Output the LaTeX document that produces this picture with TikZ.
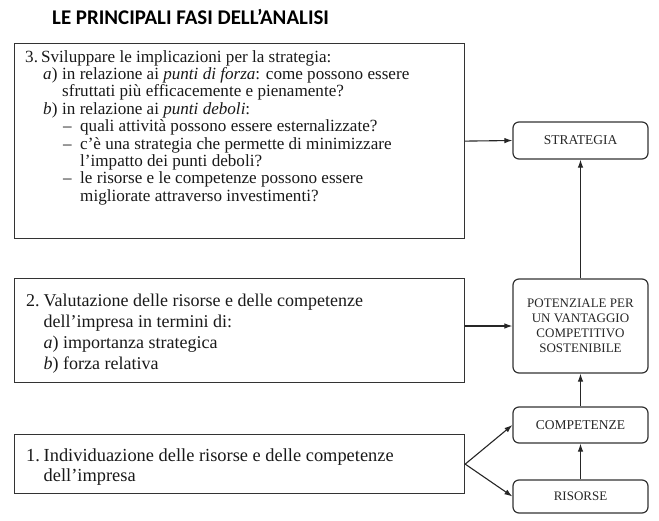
\documentclass[tikz,border=0pt]{standalone}
\usepackage{fontspec}
\setmainfont{Liberation Serif}
\newfontfamily\titlefont{Carlito}
\usetikzlibrary{arrows.meta}
\begin{document}
\begin{tikzpicture}[x=1pt,y=-1pt,
  phase/.style={draw=black!80, line width=1.2pt, rectangle, inner sep=0pt, anchor=north west},
  phasetext/.style={inner sep=0pt, anchor=north west, align=left, text=black!90},
  outbox/.style={draw=black!80, line width=1.2pt, rounded corners=6pt, minimum width=135pt, inner sep=2pt, align=center, text=black!85, font=\fontsize{13}{15}\selectfont},
  conn/.style={draw=black!85, line width=1.1pt, -{Latex[length=8pt,width=5.5pt]}}]
\useasboundingbox (0,0) rectangle (659,520);
% title
\node[anchor=west, inner sep=0pt] (title) at (52,17) {\titlefont\bfseries\fontsize{20.9}{24}\selectfont LE PRINCIPALI FASI DELL’ANALISI};
% left boxes
\node[phase, minimum width=450pt, minimum height=195pt] (b3) at (14,43) {};
\node[phase, minimum width=450pt, minimum height=104pt] (b2) at (14,278) {};
\node[phase, minimum width=450pt, minimum height=59pt] (b1) at (14,434) {};
\node[phasetext, font=\fontsize{17.1}{17.4}\selectfont] (t3) at (25,50) {%
\makebox[16pt][l]{3.}Sviluppare le implicazioni per la strategia:\\
\hspace*{18pt}\makebox[19pt][l]{\emph{a})}in relazione ai \emph{punti di forza}: come possono essere\\
\hspace*{37pt}sfruttati più efficacemente e pienamente?\\
\hspace*{18pt}\makebox[19pt][l]{\emph{b})}in relazione ai \emph{punti deboli}:\\
\hspace*{38pt}\makebox[17pt][l]{–}quali attività possono essere esternalizzate?\\
\hspace*{38pt}\makebox[17pt][l]{–}c’è una strategia che permette di minimizzare\\
\hspace*{55pt}l’impatto dei punti deboli?\\
\hspace*{38pt}\makebox[17pt][l]{–}le risorse e le competenze possono essere\\
\hspace*{55pt}migliorate attraverso investimenti?};
\node[phasetext, font=\fontsize{18}{21}\selectfont] (t2) at (26,293.5) {%
\makebox[17.5pt][l]{2.}Valutazione delle risorse e delle competenze\\
\hspace*{17.5pt}dell’impresa in termini di:\\
\hspace*{17.5pt}\emph{a}) importanza strategica\\
\hspace*{17.5pt}\emph{b}) forza relativa};
\node[phasetext, font=\fontsize{18.4}{20}\selectfont] (t1) at (26,448.5) {%
\makebox[17.5pt][l]{1.}Individuazione delle risorse e delle competenze\\
\hspace*{17.5pt}dell’impresa};
% right boxes
\node[outbox, minimum height=37pt, font=\fontsize{13.5}{15}\selectfont] (strat) at (580.5,140.5) {STRATEGIA};
\node[outbox, minimum height=94pt] (pot) at (580.5,326) {POTENZIALE PER\\UN VANTAGGIO\\COMPETITIVO\\SOSTENIBILE};
\node[outbox, minimum height=36pt, font=\fontsize{13.5}{15}\selectfont] (comp) at (580.5,425) {COMPETENZE};
\node[outbox, minimum height=33pt] (ris) at (580.5,496.5) {RISORSE};
% connectors
\draw[conn] (b3.east) -- (strat.west);
\draw[conn] (b2.east |- pot.west) -- (pot.west);
\draw[conn] (b1.east) -- (comp.west);
\draw[conn] (b1.east) -- (ris.west);
\draw[conn] (ris.north) -- (comp.south);
\draw[conn] (comp.north) -- (pot.south);
\draw[conn] (pot.north) -- (strat.south);
\end{tikzpicture}
\end{document}
